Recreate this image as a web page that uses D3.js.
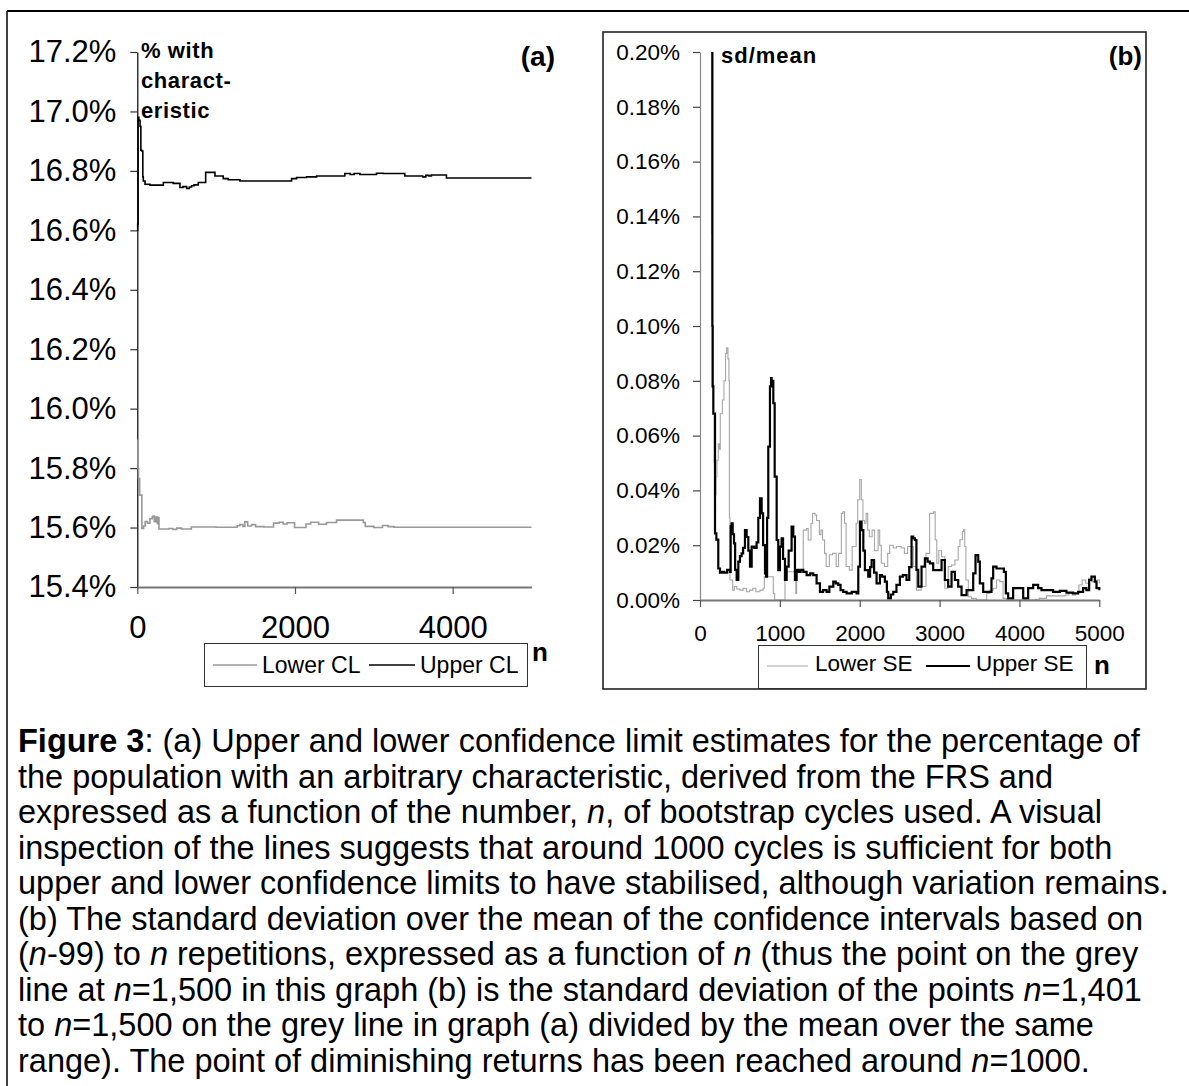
<!DOCTYPE html>
<html><head><meta charset="utf-8">
<script src="https://cdn.jsdelivr.net/npm/d3@7"></script>
<style>
body{margin:0;background:#fff}
svg{display:block}
text{font-family:"Liberation Sans",Arial,Helvetica,sans-serif;fill:#000}
</style>
</head><body>
<svg id="chart" width="1189" height="1086"></svg>
<script>
// ---------- DATA ----------
// Panel (a): confidence limits (%) vs n
const aUpperN = [1,5,10,20,35,45,55,70,76,98,161,330,456,541,580,626,660,689,720,773,867,985,1090,1153,1302,1957,2020,2147,2274,2632,2700,2750,2823,3034,3118,3393,3620,3660,3700,3730,3921,5000];
const aUpperV = [16.60,16.62,16.98,16.97,16.95,16.87,16.867,16.78,16.766,16.755,16.752,16.761,16.758,16.744,16.747,16.741,16.746,16.750,16.753,16.761,16.795,16.783,16.774,16.770,16.766,16.774,16.778,16.780,16.783,16.791,16.788,16.791,16.788,16.792,16.791,16.783,16.780,16.785,16.783,16.786,16.776,16.776];
const aLowerN = [1,8,15,30,50,58,80,100,130,160,190,200,215,235,255,265,275,400,450,500,560,685,1000,1267,1300,1340,1364,1400,1450,1500,1606,1728,1800,1850,1900,1995,2140,2200,2300,2400,2528,2868,2892,3000,3110,3180,3256,5000];
const aLowerV = [15.894,15.80,15.765,15.709,15.709,15.597,15.605,15.62,15.615,15.63,15.636,15.639,15.62,15.635,15.613,15.633,15.595,15.597,15.594,15.598,15.595,15.602,15.601,15.606,15.61,15.604,15.619,15.605,15.61,15.603,15.602,15.615,15.618,15.612,15.616,15.600,15.612,15.618,15.611,15.617,15.625,15.617,15.604,15.600,15.607,15.603,15.601,15.601];

// Panel (b): sd/mean (%) vs n
const bUpperN = [100,150,155,158,167,188,205,229,250,271,300,340,375,384,395,409,426,440,459,480,500,521,540,563,584,605,626,647,680,709,730,751,772,790,814,826,840,855,876,890,897,918,935,960,980,1001,1022,1040,1064,1085,1110,1147,1168,1189,1210,1231,1260,1293,1335,1380,1418,1460,1502,1540,1585,1620,1669,1700,1731,1760,1794,1836,1900,1961,1982,2003,2023,2045,2065,2107,2130,2149,2180,2211,2253,2280,2315,2340,2357,2390,2420,2460,2503,2540,2586,2620,2649,2670,2691,2710,2733,2774,2816,2850,2879,2920,2983,3025,3046,3066,3108,3150,3192,3233,3275,3338,3400,3421,3450,3484,3504,3546,3609,3650,3671,3713,3776,3805,3830,3859,3921,4005,4047,4109,4172,4234,4276,4339,4422,4506,4589,4672,4735,4797,4839,4873,4902,4944,4965,5000];
const bUpperV = [0.45,0.24,0.10,0.078,0.068,0.0243,0.022,0.0115,0.0100,0.0103,0.0100,0.0110,0.0103,0.0270,0.0280,0.0240,0.0207,0.0110,0.0073,0.0140,0.0160,0.0170,0.0190,0.0255,0.0230,0.0180,0.0122,0.0195,0.0190,0.0210,0.0300,0.0371,0.0316,0.0200,0.0097,0.0085,0.0300,0.0560,0.0780,0.0810,0.0800,0.0718,0.0450,0.0219,0.0109,0.0195,0.0225,0.0150,0.0073,0.0122,0.0180,0.0268,0.0231,0.0073,0.0110,0.0103,0.0110,0.0103,0.0091,0.0097,0.0091,0.0061,0.0030,0.0036,0.0030,0.0049,0.0067,0.0061,0.0055,0.0036,0.0030,0.0024,0.0030,0.0024,0.0122,0.0286,0.0255,0.0180,0.0109,0.0085,0.0120,0.0146,0.0100,0.0061,0.0091,0.0085,0.0067,0.0030,0.0006,0.0020,0.0030,0.0055,0.0085,0.0091,0.0073,0.0120,0.0231,0.0225,0.0219,0.0110,0.0049,0.0122,0.0152,0.0140,0.0134,0.0109,0.0109,0.0146,0.0146,0.0073,0.0049,0.0103,0.0073,0.0049,0.0018,0.0036,0.0036,0.0097,0.0164,0.0140,0.0061,0.0030,0.0030,0.0079,0.0122,0.0115,0.0115,0.0103,0.0024,0.0006,0.0043,0.0043,0.0006,0.0043,0.0055,0.0043,0.0036,0.0036,0.0030,0.0033,0.0027,0.0024,0.0030,0.0043,0.0036,0.0073,0.0085,0.0067,0.0043,0.0036];
const bLowerN = [100,135,146,152,167,178,188,200,212,229,240,254,280,300,320,335,350,362,368,375,409,430,460,500,540,584,620,660,700,751,790,805,860,890,918,935,1040,1064,1085,1170,1200,1210,1265,1293,1335,1355,1390,1410,1440,1460,1495,1515,1535,1560,1580,1620,1660,1705,1735,1770,1790,1810,1830,1870,1905,1955,1975,2000,2020,2040,2060,2080,2100,2120,2155,2185,2230,2250,2270,2310,2350,2375,2420,2460,2520,2560,2600,2670,2710,2770,2830,2875,2925,2945,2965,2990,3025,3066,3108,3150,3192,3233,3255,3285,3300,3315,3330,3360,3400,3460,3546,3590,3630,3671,3713,3755,3795,3835,4200,4250,4339,4540,4580,4620,4660,4700,4745,4785,4830,4865,4900,4960,5000];
const bLowerV = [0.40,0.205,0.134,0.10,0.068,0.050,0.0384,0.045,0.051,0.057,0.055,0.068,0.073,0.080,0.090,0.092,0.088,0.080,0.030,0.0073,0.0036,0.0049,0.0040,0.0036,0.0043,0.0030,0.0036,0.0043,0.0030,0.0036,0.0043,0.0085,0.0085,0.0085,0.0024,0.0,0.0,0.0073,0.0103,0.0103,0.0024,0.0109,0.0109,0.0255,0.0261,0.0219,0.0280,0.0316,0.0310,0.0290,0.0238,0.0255,0.0219,0.0170,0.0122,0.0165,0.0170,0.0122,0.0170,0.0316,0.0322,0.0280,0.0122,0.0109,0.0195,0.0280,0.0366,0.0440,0.0366,0.0290,0.0280,0.0316,0.0255,0.0231,0.0255,0.0180,0.0255,0.0200,0.0134,0.0122,0.0170,0.0200,0.0190,0.0195,0.0190,0.0170,0.0195,0.0122,0.0036,0.0049,0.0170,0.0316,0.0322,0.0220,0.0134,0.0180,0.0158,0.0043,0.0122,0.0128,0.0146,0.0195,0.0220,0.0250,0.0256,0.0195,0.0073,0.0012,0.0006,0.0,0.0,0.0024,0.0036,0.0043,0.0073,0.0067,0.0006,0.0,0.0003,0.0006,0.0015,0.0015,0.0018,0.0024,0.0018,0.0024,0.0055,0.0073,0.0061,0.0079,0.0067,0.0073,0.0061];

// ticks and labels
const aYTicks = [15.4,15.6,15.8,16.0,16.2,16.4,16.6,16.8,17.0,17.2];
const aXTicks = [0,2000,4000];
const bYTicks = [0,0.02,0.04,0.06,0.08,0.10,0.12,0.14,0.16,0.18,0.20];
const bXTicks = [0,1000,2000,3000,4000,5000];
const aLegend = ["Lower CL","Upper CL"];
const bLegend = ["Lower SE","Upper SE"];
const aTitleLines = ["% with","charact-","eristic"];
const bTitle = "sd/mean";
const captionLines = [
 "**Figure 3**: (a) Upper and lower confidence limit estimates for the percentage of",
 "the population with an arbitrary characteristic, derived from the FRS and",
 "expressed as a function of the number, *n*, of bootstrap cycles used. A visual",
 "inspection of the lines suggests that around 1000 cycles is sufficient for both",
 "upper and lower confidence limits to have stabilised, although variation remains.",
 "(b) The standard deviation over the mean of the confidence intervals based on",
 "(*n*-99) to *n* repetitions, expressed as a function of *n* (thus the point on the grey",
 "line at *n*=1,500 in this graph (b) is the standard deviation of the points *n*=1,401",
 "to *n*=1,500 on the grey line in graph (a) divided by the mean over the same",
 "range). The point of diminishing returns has been reached around *n*=1000."
];

// ---------- DRAW ----------
const svg = d3.select("#chart");
svg.append("rect").attr("width",1189).attr("height",1086).attr("fill","#fff");

// outer frame (top and left edges)
svg.append("line").attr("x1",7).attr("x2",1189).attr("y1",11).attr("y2",11).attr("stroke","#000").attr("stroke-width",2);
svg.append("line").attr("x1",7).attr("x2",7).attr("y1",11).attr("y2",1086).attr("stroke","#000").attr("stroke-width",1.5);

// ===== Panel (a) =====
const A = {l:137.3, r:531.5, t:52, b:587};
const ax = d3.scaleLinear().domain([0,5000]).range([A.l,A.r]);
const ay = d3.scaleLinear().domain([15.4,17.2]).range([A.b,A.t]);

const gAy = svg.append("g").attr("transform",`translate(${A.l},0)`)
  .call(d3.axisLeft(ay).tickValues(aYTicks).tickFormat(d=>d.toFixed(1)+"%").tickSize(7).tickSizeOuter(0).tickPadding(14));
gAy.select(".domain").attr("stroke","#000").attr("stroke-width",1.2);
gAy.selectAll(".tick line").attr("stroke","#333").attr("stroke-width",1.2);
gAy.selectAll(".tick text").attr("font-size",31).attr("font-family",null).attr("fill","#000");

const gAx = svg.append("g").attr("transform",`translate(0,${A.b})`)
  .call(d3.axisBottom(ax).tickValues(aXTicks).tickFormat(d3.format("d")).tickSize(7).tickSizeOuter(0).tickPadding(22));
gAx.select(".domain").attr("stroke","#777").attr("stroke-width",2);
gAx.selectAll(".tick line").attr("stroke","#555").attr("stroke-width",1.2);
gAx.selectAll(".tick text").attr("font-size",31).attr("font-family",null).attr("fill","#000");

const aLine = d3.line().curve(d3.curveStepAfter).x(d=>ax(d[0])).y(d=>ay(d[1]));
svg.append("path").datum(aLowerN.map((n,i)=>[n,aLowerV[i]]))
  .attr("d",aLine).attr("fill","none").attr("stroke","#999").attr("stroke-width",1.6);
svg.append("path").datum(aUpperN.map((n,i)=>[n,aUpperV[i]]))
  .attr("d",aLine).attr("fill","none").attr("stroke","#000").attr("stroke-width",1.6);

// y-axis title
const aT = svg.append("text").attr("x",141).attr("font-weight","bold").attr("font-size",22).attr("letter-spacing",0.6);
aTitleLines.forEach((s,i)=>aT.append("tspan").attr("x",141).attr("y",58+i*30).text(s));
svg.append("text").attr("x",555).attr("y",66).attr("text-anchor","end").attr("font-weight","bold").attr("font-size",28).text("(a)");

// legend (a)
svg.append("rect").attr("x",204.5).attr("y",643.5).attr("width",323).attr("height",43).attr("fill","#fff").attr("stroke","#333").attr("stroke-width",1);
svg.append("line").attr("x1",213).attr("x2",257).attr("y1",665).attr("y2",665).attr("stroke","#999").attr("stroke-width",1.6);
svg.append("text").attr("x",262).attr("y",673).attr("font-size",23).text(aLegend[0]);
svg.append("line").attr("x1",369).attr("x2",415).attr("y1",665).attr("y2",665).attr("stroke","#000").attr("stroke-width",1.6);
svg.append("text").attr("x",420).attr("y",673).attr("font-size",23).text(aLegend[1]);
svg.append("text").attr("x",532).attr("y",661).attr("font-size",26).attr("font-weight","bold").text("n");

// ===== Panel (b) =====
svg.append("rect").attr("x",603).attr("y",32).attr("width",543).attr("height",657).attr("fill","none").attr("stroke","#222").attr("stroke-width",1.6);
const B = {l:700, r:1099.3, t:52, b:600};
const bx = d3.scaleLinear().domain([0,5000]).range([B.l,B.r]);
const by = d3.scaleLinear().domain([0,0.2]).range([B.b,B.t]);

svg.append("clipPath").attr("id","bclip").append("rect").attr("x",B.l).attr("y",B.t).attr("width",B.r-B.l+2).attr("height",B.b-B.t);

const bLine = d3.line().curve(d3.curveStepAfter).x(d=>bx(d[0])).y(d=>by(d[1]));
const gB = svg.append("g").attr("clip-path","url(#bclip)");
gB.append("path").datum(bLowerN.map((n,i)=>[n,bLowerV[i]]))
  .attr("d",bLine).attr("fill","none").attr("stroke","#a6a6a6").attr("stroke-width",1.1);
gB.append("path").datum(bUpperN.map((n,i)=>[n,bUpperV[i]]))
  .attr("d",bLine).attr("fill","none").attr("stroke","#000").attr("stroke-width",2.2);

const gBy = svg.append("g").attr("transform",`translate(${B.l},0)`)
  .call(d3.axisLeft(by).tickValues(bYTicks).tickFormat(d=>d.toFixed(2)+"%").tickSize(7).tickSizeOuter(0).tickPadding(13));
gBy.select(".domain").attr("stroke","#888").attr("stroke-width",1.2);
gBy.selectAll(".tick line").attr("stroke","#444").attr("stroke-width",1.2);
gBy.selectAll(".tick text").attr("font-size",22.5).attr("font-family",null).attr("fill","#000");

const gBx = svg.append("g").attr("transform",`translate(0,${B.b})`)
  .call(d3.axisBottom(bx).tickValues(bXTicks).tickFormat(d3.format("d")).tickSize(7).tickSizeOuter(0).tickPadding(18));
gBx.select(".domain").attr("stroke","#777").attr("stroke-width",2);
gBx.selectAll(".tick line").attr("stroke","#555").attr("stroke-width",1.2);
gBx.selectAll(".tick text").attr("font-size",22.5).attr("font-family",null).attr("fill","#000");

svg.append("text").attr("x",721).attr("y",63).attr("font-weight","bold").attr("font-size",22).attr("letter-spacing",1).text(bTitle);
svg.append("text").attr("x",1142).attr("y",65).attr("text-anchor","end").attr("font-weight","bold").attr("font-size",26).text("(b)");

// legend (b)
svg.append("rect").attr("x",758.5).attr("y",645.5).attr("width",328).attr("height",43).attr("fill","#fff").attr("stroke","#333").attr("stroke-width",1);
svg.append("line").attr("x1",767).attr("x2",808).attr("y1",666).attr("y2",666).attr("stroke","#a6a6a6").attr("stroke-width",1.1);
svg.append("text").attr("x",815).attr("y",671).attr("font-size",22.5).text(bLegend[0]);
svg.append("line").attr("x1",926).attr("x2",970).attr("y1",666).attr("y2",666).attr("stroke","#000").attr("stroke-width",2.2);
svg.append("text").attr("x",976).attr("y",671).attr("font-size",22.5).text(bLegend[1]);
svg.append("text").attr("x",1094).attr("y",674).attr("font-size",26).attr("font-weight","bold").text("n");

// ===== Caption =====
captionLines.forEach((line,i)=>{
  const t = svg.append("text").attr("x",18).attr("y",752+i*35.5).attr("font-size",32.5);
  line.split(/(\*\*[^*]+\*\*|\*[^*]+\*)/).filter(s=>s.length).forEach(seg=>{
    const sp = t.append("tspan");
    if (seg.startsWith("**")) sp.attr("font-weight","bold").text(seg.slice(2,-2));
    else if (seg.startsWith("*")) sp.attr("font-style","italic").text(seg.slice(1,-1));
    else sp.text(seg);
  });
});
</script>
</body></html>
